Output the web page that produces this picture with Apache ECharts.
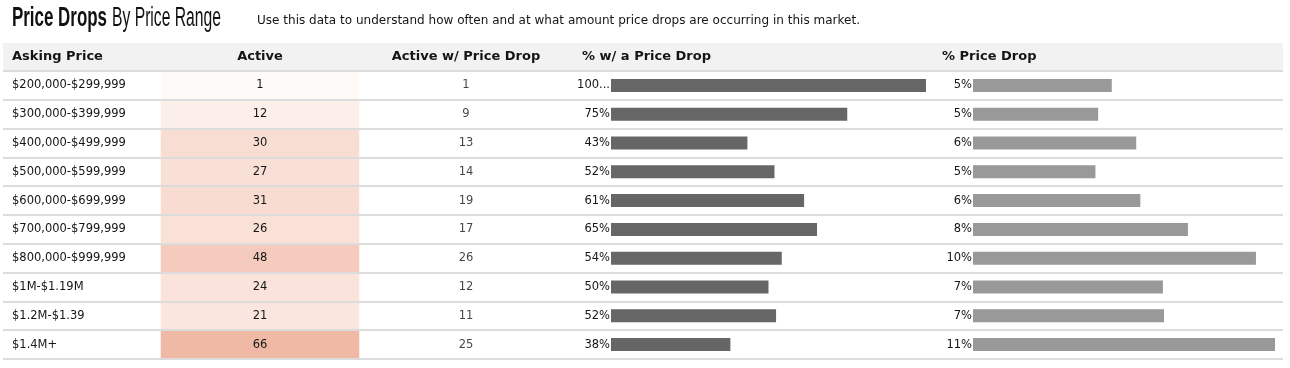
<!DOCTYPE html>
<html>
<head>
<meta charset="utf-8">
<script src="https://cdn.jsdelivr.net/npm/echarts@6/dist/echarts.min.js"></script>
<style>
html,body{margin:0;padding:0;background:#fff;}
#chart{width:1290px;height:368px;}
</style>
</head>
<body>
<div id="chart"></div>
<script>
// ---- data ----
var categories = ['$200,000-$299,999','$300,000-$399,999','$400,000-$499,999','$500,000-$599,999','$600,000-$699,999','$700,000-$799,999','$800,000-$999,999','$1M-$1.19M','$1.2M-$1.39','$1.4M+'];
var active = [1,12,30,27,31,26,48,24,21,66];
var activeWithDrop = [1,9,13,14,19,17,26,12,11,25];
var pctWithDrop = [100,75,43.3,51.9,61.3,65.4,54.2,50,52.4,37.9];
var pctDrop = [5.1,4.6,6.0,4.5,6.15,7.9,10.4,6.98,7.02,11.1];
var headers = ['Asking Price','Active','Active w/ Price Drop','% w/ a Price Drop','% Price Drop'];
var titleBold = 'Price Drops';
var titleRest = 'By Price Range';
var subtitle = 'Use this data to understand how often and at what amount price drops are occurring in this market.';

var FONT = '"DejaVu Sans", sans-serif';
var TFONT = '"Liberation Sans", Arial, sans-serif';
var TXT = '#151515';
var TOP = 71, H = 288;
var FS = 11.5;

// condensed title: measure and squeeze horizontally
var mctx = document.createElement('canvas').getContext('2d');
function textW(font, t){ mctx.font = font; return mctx.measureText(t).width; }
var fB = 'bold 27px ' + TFONT, fR = '27px ' + TFONT;
var sB = 95 / textW(fB, titleBold);
var sR = 109 / textW(fR, titleRest);
var fSub = '11.5px ' + FONT;
var subScale = 603 / textW(fSub, subtitle);

var chart = echarts.init(document.getElementById('chart'), null, {renderer:'canvas'});

function catY(gi, extra){
  var o = {type:'category', gridIndex:gi, data:categories, inverse:true,
    axisLine:{show:false}, axisTick:{show:false}, axisLabel:{show:false}, splitLine:{show:false}};
  return Object.assign(o, extra||{});
}

var option = {
  animation:false,
  backgroundColor:'#fff',
  graphic:[
    {type:'text', x:12, y:5, scaleX:sB, style:{text:titleBold, font:fB, fill:'#111', verticalAlign:'top'}},
    {type:'text', x:112, y:5, scaleX:sR, style:{text:titleRest, font:fR, fill:'#111', verticalAlign:'top'}},
    {type:'text', x:257, y:21, scaleX:Math.min(subScale,1.15), style:{text:subtitle, font:fSub, fill:TXT, verticalAlign:'middle'}},
    {type:'rect', x:3, y:43, shape:{width:1280, height:28}, style:{fill:'#f2f2f2'}, z:-1},
    {type:'text', x:12, y:57, style:{text:headers[0], font:'bold 13px '+FONT, fill:TXT, verticalAlign:'middle'}},
    {type:'text', x:260, y:57, style:{text:headers[1], font:'bold 13px '+FONT, fill:TXT, align:'center', verticalAlign:'middle'}},
    {type:'text', x:466, y:57, style:{text:headers[2], font:'bold 13px '+FONT, fill:TXT, align:'center', verticalAlign:'middle'}},
    {type:'text', x:582, y:57, style:{text:headers[3], font:'bold 13px '+FONT, fill:TXT, verticalAlign:'middle'}},
    {type:'text', x:942, y:57, style:{text:headers[4], font:'bold 13px '+FONT, fill:TXT, verticalAlign:'middle'}}
  ],
  visualMap:{type:'continuous', show:false, min:1, max:66, seriesIndex:0, dimension:2,
    inRange:{color:['#fefaf8','#f0b9a5']}},
  grid:[
    {left:3, width:1280, top:TOP, height:H},
    {left:161, width:198, top:TOP, height:H},
    {left:380, width:172, top:TOP, height:H},
    {left:611, width:315, top:TOP, height:H},
    {left:973, width:302, top:TOP, height:H}
  ],
  xAxis:[
    {type:'value', gridIndex:0, show:false},
    {type:'category', gridIndex:1, data:['Active'], show:false},
    {type:'category', gridIndex:2, data:['Drop'], show:false},
    {type:'value', gridIndex:3, min:0, max:100, show:false},
    {type:'value', gridIndex:4, min:0, max:'dataMax', show:false}
  ],
  yAxis:[
    catY(0, {z:10, splitLine:{show:true, lineStyle:{color:'#dcdcdc', width:2}},
      axisLabel:{show:true, inside:true, margin:9, align:'left', fontFamily:FONT, fontSize:FS, color:TXT}}),
    catY(1),
    catY(2),
    catY(3),
    catY(4)
  ],
  series:[
    {type:'heatmap', xAxisIndex:1, yAxisIndex:1, z:2,
     data:active.map(function(v,i){return [0,i,v];}),
     label:{show:true, fontFamily:FONT, fontSize:FS, color:TXT, formatter:function(p){return p.value[2];}},
     itemStyle:{borderWidth:0}},
    {type:'scatter', xAxisIndex:2, yAxisIndex:2, symbolSize:1, itemStyle:{color:'rgba(0,0,0,0)'},
     data:activeWithDrop.map(function(v,i){return [0,i,v];}),
     label:{show:true, position:'inside', fontFamily:FONT, fontSize:FS, color:TXT, formatter:function(p){return p.value[2];}}},
    {type:'bar', xAxisIndex:3, yAxisIndex:3, barWidth:13, itemStyle:{color:'#666666'},
     data:pctWithDrop,
     label:{show:true, position:'left', distance:1, fontFamily:FONT, fontSize:FS, color:TXT,
       formatter:function(p){return p.value>=100 ? '100...' : Math.round(p.value)+'%';}}},
    {type:'bar', xAxisIndex:4, yAxisIndex:4, barWidth:13, itemStyle:{color:'#999999'},
     data:pctDrop,
     label:{show:true, position:'left', distance:1, fontFamily:FONT, fontSize:FS, color:TXT,
       formatter:function(p){return Math.round(p.value)+'%';}}}
  ]
};
chart.setOption(option);
</script>
</body>
</html>
